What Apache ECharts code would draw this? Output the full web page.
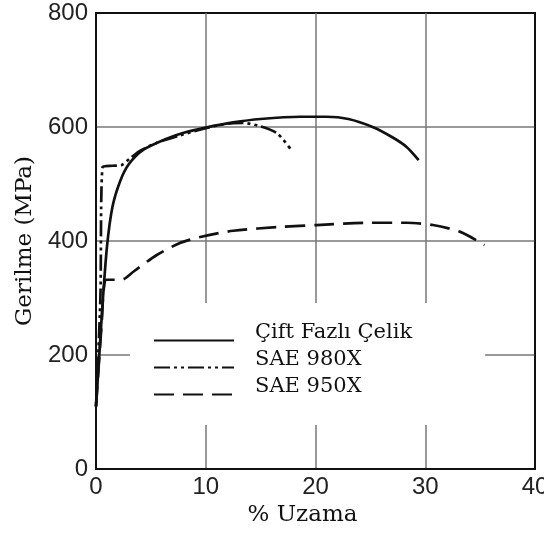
<!DOCTYPE html>
<html>
<head>
<meta charset="utf-8">
<script src="https://cdn.jsdelivr.net/npm/echarts@6/dist/echarts.min.js"></script>
<style>html,body{margin:0;padding:0;background:#fff}#c{width:544px;height:536px}</style>
</head>
<body>
<div id="c"></div>
<script>
// % Uzama (strain) vs Gerilme (MPa)
const seriesNames = ['Çift Fazlı Çelik', 'SAE 980X', 'SAE 950X'];
const ciftFazli = [[0,110],[0.3,200],[0.6,290],[1.0,390],[1.5,460],[2.2,505],[3,535],[4.3,560],[6.5,580],[8,590],[10,599],[12.5,608],[15,614],[18.6,618],[21,618],[23,614],[25.2,600],[27,582],[28.3,565],[29.4,542]];
const sae980x = [[0,110],[0.4,300],[0.6,530],[1.5,532],[2.3,533],[3.1,545],[4,558],[5.5,572],[7.6,585],[10,598],[12,606],[13.4,607],[15,601],[16.5,589],[17.7,562]];
const sae950x = [[0,110],[0.5,250],[0.9,332],[1.7,332],[2.5,333],[3.4,346],[5.5,375],[7.6,396],[9.5,407],[12.5,418],[17,425],[20.1,428],[24.7,432],[28.3,432],[30.7,428],[33.2,416],[35.4,393]];
const xTicks = [0,10,20,30,40];
const yTicks = [0,200,400,600,800];

const edge = '#111', grid = '#777';
const chart = echarts.init(document.getElementById('c'));
const lineBase = {type:'line', symbol:'none', smooth:0.25};
chart.setOption({
  animation:false,
  backgroundColor:'#fff',
  grid:{left:96, right:9, top:13, bottom:67, show:true, borderColor:edge, borderWidth:2, backgroundColor:'transparent', outerBoundsMode:'none', containLabel:false},
  legend:{
    orient:'vertical', left:130, top:303,
    data:seriesNames,
    itemWidth:80, itemHeight:14, itemGap:-10,
    itemStyle:{opacity:0},
    backgroundColor:'#fff',
    padding:[19,73,12,23],
    formatter: n => n + '\n ',
    textStyle:{fontFamily:'DejaVu Serif', fontSize:21, color:'#111', lineHeight:16, padding:[0,0,0,16]}
  },
  xAxis:{
    type:'value', min:xTicks[0], max:xTicks[xTicks.length-1], interval:10,
    name:'% Uzama', nameLocation:'middle', nameGap:35,
    nameTextStyle:{fontFamily:'DejaVu Serif', fontSize:23, color:'#111', padding:[0,26,0,0]},
    axisLine:{show:true, lineStyle:{color:edge, width:2}},
    axisTick:{show:false},
    axisLabel:{fontFamily:'Liberation Sans', fontSize:24, color:'#222', margin:6},
    splitLine:{show:true, lineStyle:{color:[edge,grid,grid,grid,edge], width:1.5}}
  },
  yAxis:{
    type:'value', min:yTicks[0], max:yTicks[yTicks.length-1], interval:200,
    name:'Gerilme (MPa)', nameLocation:'middle', nameGap:59,
    nameTextStyle:{fontFamily:'DejaVu Serif', fontSize:23, color:'#111'},
    axisLine:{show:true, lineStyle:{color:edge, width:2}},
    axisTick:{show:false},
    axisLabel:{fontFamily:'Liberation Sans', fontSize:24, color:'#222', margin:8},
    splitLine:{show:true, lineStyle:{color:[edge,grid,grid,grid,edge], width:1.5}}
  },
  series:[
    Object.assign({}, lineBase, {name:seriesNames[0], data:ciftFazli, lineStyle:{color:'#111', width:2.7, type:'solid'}, itemStyle:{color:'#111'}}),
    Object.assign({}, lineBase, {name:seriesNames[1], data:sae980x, lineStyle:{color:'#111', width:2.7, type:[16,4,3,4,3,4]}, itemStyle:{color:'#111'}}),
    Object.assign({}, lineBase, {name:seriesNames[2], data:sae950x, lineStyle:{color:'#111', width:2.7, type:[20,9]}, itemStyle:{color:'#111'}})
  ]
});
</script>
</body>
</html>
